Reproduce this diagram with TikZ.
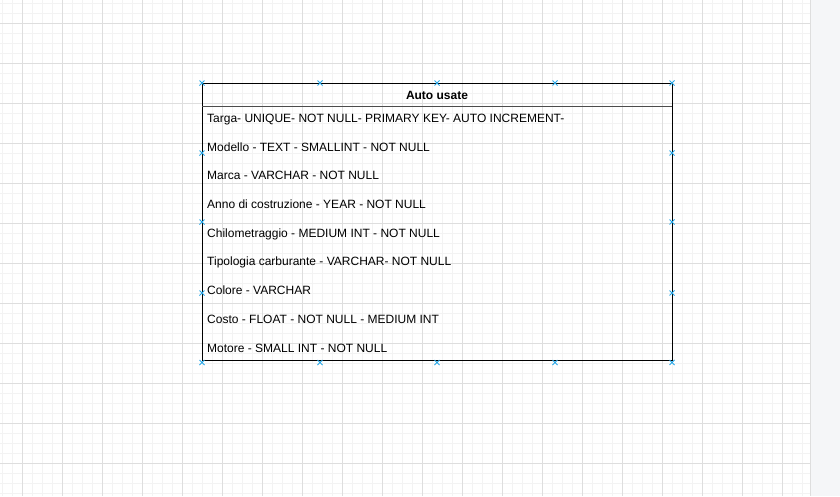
\documentclass[tikz,border=0pt]{standalone}
\usepackage{fontspec}
\setmainfont{Liberation Sans}
\usetikzlibrary{calc}
\definecolor{gmin}{HTML}{F3F3F3}
\definecolor{gmaj}{HTML}{DEDEDE}
\definecolor{stripcol}{HTML}{F5F6F8}
\definecolor{selblue}{HTML}{29A8E8}
\tikzset{
  rowtext/.style={anchor=base west, inner sep=0pt, font=\fontsize{12}{14}\selectfont},
  hdr/.style={anchor=base, inner sep=0pt, font=\fontsize{12}{14}\selectfont\bfseries},
  xmark/.style={draw=selblue, line width=1pt},
}
\newcommand{\xm}[1]{\draw[xmark] ($(#1)+(-2.5,-2.5)$) -- ($(#1)+(2.5,2.5)$) ($(#1)+(-2.5,2.5)$) -- ($(#1)+(2.5,-2.5)$);}
\begin{document}
\begin{tikzpicture}[x=1pt,y=-1pt]
\useasboundingbox (0,0) rectangle (840,496);
\fill[white] (0,0) rectangle (840,496);
% minor grid
\foreach \i in {2,12,...,802} \draw[gmin, line width=0.8pt] (\i,0) -- (\i,496);
\foreach \j in {3,13,...,493} \draw[gmin, line width=0.8pt] (0,\j) -- (810,\j);
% major grid
\foreach \i in {22,62,...,802} \draw[gmaj, line width=0.8pt] (\i,0) -- (\i,496);
\foreach \j in {23,63,...,493} \draw[gmaj, line width=0.8pt] (0,\j) -- (810,\j);
% right strip
\fill[stripcol] (810,0) rectangle (840,496);
\draw[gmaj, line width=0.8pt] (810,0) -- (810,496);
% table
\node[draw=black, line width=0.8pt, minimum width=470, minimum height=277, anchor=north west, inner sep=0pt] (box) at (202,83) {};
\coordinate (sepL) at (202,106);
\coordinate (sepR) at (672,106);
\draw[black!70, line width=0.8pt] (sepL) -- (sepR);
\node[hdr] (title) at (437,99) {Auto usate};
\node[rowtext] (r1) at (207,122) {Targa- UNIQUE- NOT NULL- PRIMARY KEY- AUTO INCREMENT-};
\node[rowtext] (r2) at (207,151) {Modello - TEXT - SMALLINT - NOT NULL};
\node[rowtext] (r3) at (207,179.5) {Marca - VARCHAR - NOT NULL};
\node[rowtext] (r4) at (207,208) {Anno di costruzione - YEAR - NOT NULL};
\node[rowtext] (r5) at (207,237) {Chilometraggio - MEDIUM INT - NOT NULL};
\node[rowtext] (r6) at (207,265.5) {Tipologia carburante - VARCHAR- NOT NULL};
\node[rowtext] (r7) at (207,294.5) {Colore - VARCHAR};
\node[rowtext] (r8) at (207,323) {Costo - FLOAT - NOT NULL - MEDIUM INT};
\node[rowtext] (r9) at (207,352) {Motore - SMALL INT - NOT NULL};
% selection markers
\foreach \x in {202,320,437,555,672} {\xm{\x,83} \xm{\x,362.5}}
\foreach \y in {153,222,293} {\xm{202,\y} \xm{672,\y}}
\end{tikzpicture}
\end{document}
